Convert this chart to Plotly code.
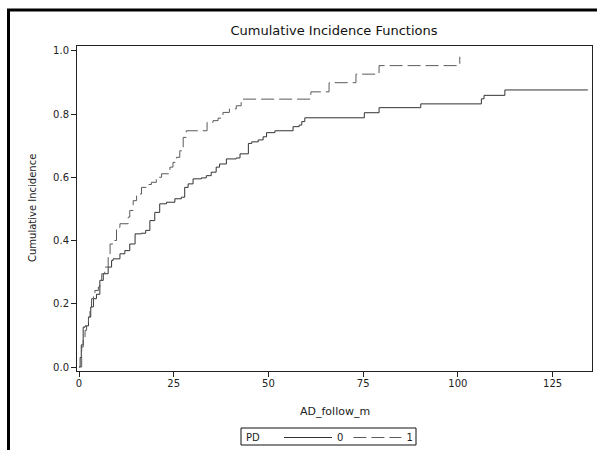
import plotly.graph_objects as go

# PD = 0 (solid)
t_pd0 = [0, 0.3, 0.6, 1.1, 1.6, 2.5, 3.1, 3.8, 4.6, 5.5, 6.4, 7.7, 8.6, 9.0, 10.8, 12.1, 13.4,
         14.8, 16.5, 17.6, 18.7, 20.0, 21.3, 23.1, 25.3, 27.0, 27.9, 28.8, 30.1, 32.3, 33.6,
         34.9, 36.2, 37.1, 38.9, 41.5, 42.5, 44.7, 45.6, 47.3, 48.6, 49.5, 51.7, 56.5, 58.1,
         58.8, 59.6, 75.3, 79.2, 90.2, 106.2, 106.9, 112.4, 134.3]
ci_pd0 = [0, 0.03, 0.07, 0.126, 0.13, 0.158, 0.19, 0.216, 0.23, 0.274, 0.295, 0.316, 0.337,
          0.342, 0.358, 0.368, 0.389, 0.421, 0.423, 0.432, 0.463, 0.489, 0.516, 0.521, 0.532,
          0.537, 0.568, 0.579, 0.595, 0.598, 0.605, 0.616, 0.632, 0.642, 0.658, 0.661, 0.674,
          0.707, 0.712, 0.718, 0.728, 0.741, 0.747, 0.760, 0.765, 0.776, 0.788, 0.804, 0.820,
          0.832, 0.848, 0.859, 0.876, 0.876]

# PD = 1 (dashed)
t_pd1 = [0, 0.7, 1.1, 1.6, 2.0, 2.5, 2.9, 3.3, 3.8, 4.2, 5.1, 5.5, 6.0, 6.8, 7.7, 8.2, 9.0,
         9.9, 10.8, 13.0, 13.4, 14.3, 15.2, 16.5, 17.8, 19.1, 20.4, 21.8, 24.0, 24.8, 25.7,
         26.6, 27.5, 28.3, 33.8, 35.4, 36.7, 38.0, 39.7, 41.5, 42.8, 61.2, 66.0, 73.1, 79.2,
         100.5]
ci_pd1 = [0, 0.063, 0.095, 0.116, 0.137, 0.158, 0.179, 0.216, 0.232, 0.242, 0.253, 0.274,
          0.295, 0.316, 0.358, 0.389, 0.4, 0.442, 0.453, 0.474, 0.495, 0.526, 0.547, 0.568,
          0.577, 0.584, 0.6, 0.611, 0.632, 0.647, 0.663, 0.684, 0.726, 0.747, 0.774, 0.779,
          0.787, 0.805, 0.816, 0.826, 0.847, 0.870, 0.899, 0.926, 0.953, 0.981]

x_ticks = [0, 25, 50, 75, 100, 125]
y_ticks = [0.0, 0.2, 0.4, 0.6, 0.8, 1.0]

FONT = "DejaVu Sans"
W, H = 597, 450
L, R, T, B = 77, 5, 46, 79
pw, ph = W - L - R, H - T - B

def px_to_paper_x(px):
    return (px - L) / pw

def px_to_paper_y(py):
    return (H - B - py) / ph

fig = go.Figure()
fig.add_trace(go.Scatter(x=t_pd0, y=ci_pd0, mode="lines", name="0",
                         line=dict(color="#333333", width=1, shape="hv")))
fig.add_trace(go.Scatter(x=t_pd1, y=ci_pd1, mode="lines", name="1",
                         line=dict(color="#5a5a5a", width=1, shape="hv", dash="13px,5px")))

axis_common = dict(showline=True, linecolor="#222222", linewidth=1, mirror=True,
                   ticks="outside", ticklen=5, tickcolor="#222222", showgrid=False,
                   zeroline=False, tickfont=dict(family=FONT, size=10, color="#222222"))

fig.update_xaxes(range=[-0.53, 135.4], tickvals=x_ticks, ticktext=[str(v) for v in x_ticks],
                 ticklabelstandoff=-2, **axis_common)
fig.update_yaxes(range=[-0.0126, 1.015], tickvals=y_ticks,
                 ticktext=[f"{v:.1f}" for v in y_ticks], **axis_common)

fig.update_layout(
    width=W, height=H,
    margin=dict(l=L, r=R, t=T, b=B, autoexpand=False),
    paper_bgcolor="white", plot_bgcolor="white",
    font=dict(family=FONT, size=10, color="#222222"),
    title=dict(text="Cumulative Incidence Functions", x=334 / W,
               xanchor="center", y=1 - 30 / H, yanchor="middle",
               font=dict(family=FONT, size=13, color="#111111")),
    showlegend=True,
    legend=dict(orientation="h",
                x=px_to_paper_x(279), xanchor="left",
                y=px_to_paper_y(423), yanchor="top",
                bgcolor="rgba(0,0,0,0)", borderwidth=0,
                font=dict(family=FONT, size=10), itemwidth=48),
    annotations=[
        dict(text="Cumulative Incidence", xref="paper", yref="paper",
             x=px_to_paper_x(32), y=px_to_paper_y(208), textangle=-90,
             showarrow=False, xanchor="center", yanchor="middle",
             font=dict(family=FONT, size=10, color="#222222")),
        dict(text="AD_follow_m", xref="paper", yref="paper",
             x=px_to_paper_x(335), y=px_to_paper_y(411),
             showarrow=False, xanchor="center", yanchor="middle",
             font=dict(family=FONT, size=11, color="#222222")),
        dict(text="PD", xref="paper", yref="paper",
             x=px_to_paper_x(244), y=px_to_paper_y(437),
             showarrow=False, xanchor="left", yanchor="middle",
             font=dict(family=FONT, size=10, color="#222222")),
    ],
    shapes=[
        dict(type="rect", xref="paper", yref="paper",
             x0=px_to_paper_x(8.5), x1=px_to_paper_x(640),
             y0=px_to_paper_y(500), y1=px_to_paper_y(10),
             line=dict(color="black", width=3), fillcolor="rgba(0,0,0,0)", layer="above"),
        dict(type="rect", xref="paper", yref="paper",
             x0=px_to_paper_x(241), x1=px_to_paper_x(416),
             y0=px_to_paper_y(445), y1=px_to_paper_y(428),
             line=dict(color="#111111", width=1), fillcolor="rgba(0,0,0,0)"),
    ],
)

fig.write_html("out.html")
